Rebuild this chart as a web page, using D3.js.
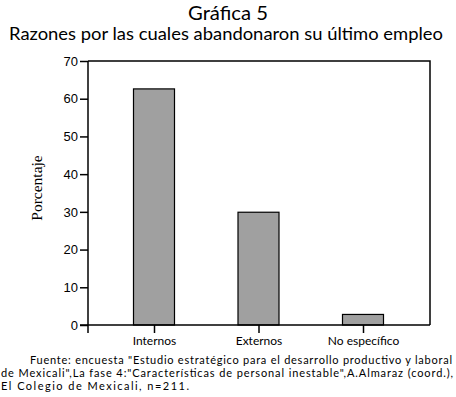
<!DOCTYPE html>
<html>
<head>
<meta charset="utf-8">
<script src="https://cdn.jsdelivr.net/npm/d3@7"></script>
<style>
  body { margin: 0; background: #fff; }
  svg { display: block; }
</style>
</head>
<body>
<div id="chart"></div>
<script>
// data
const categories = ['Internos', 'Externos', 'No específico'];
const values = [62.6, 29.9, 2.8];
const yTicks = [0, 10, 20, 30, 40, 50, 60, 70];
const titleText = 'Gráfica 5';
const subtitleText = 'Razones por las cuales abandonaron su último empleo';
const sourceLines = [
  'Fuente: encuesta "Estudio estratégico para el desarrollo productivo y laboral',
  'de Mexicali",La fase 4:"Características de personal inestable",A.Almaraz  (coord.),',
  'El Colegio de Mexicali, n=211.'
];

const width = 456, height = 397;
const titleFont = 'Lato, "Noto Sans", sans-serif';

const svg = d3.select('#chart').append('svg')
  .attr('width', width)
  .attr('height', height);

// plot frame
const plotLeft = 88, plotRight = 430, plotTop = 61, plotBottom = 325;

const y = d3.scaleLinear().domain([0, 70]).range([plotBottom, plotTop]);
const x = d3.scalePoint().domain(categories).range([154, 363]);
const barWidth = 41;

// titles
svg.append('text')
  .attr('x', 228).attr('y', 20)
  .attr('text-anchor', 'middle')
  .attr('textLength', 80).attr('lengthAdjust', 'spacingAndGlyphs')
  .style('font-family', titleFont)
  .style('font-size', '19px')
  .text(titleText);

svg.append('text')
  .attr('x', 226).attr('y', 40)
  .attr('text-anchor', 'middle')
  .attr('textLength', 434).attr('lengthAdjust', 'spacingAndGlyphs')
  .style('font-family', titleFont)
  .style('font-size', '17.5px')
  .text(subtitleText);

// top and right border
svg.append('path')
  .attr('d', `M${plotLeft},${plotTop}H${plotRight}V${plotBottom}`)
  .attr('fill', 'none')
  .attr('stroke', '#000')
  .attr('stroke-width', 1.5);

// bars
svg.append('g')
  .selectAll('rect')
  .data(values)
  .join('rect')
  .attr('x', (d, i) => x(categories[i]) - barWidth / 2)
  .attr('y', d => y(d))
  .attr('width', barWidth)
  .attr('height', d => y(0) - y(d))
  .attr('fill', '#a0a0a0')
  .attr('stroke', '#000')
  .attr('stroke-width', 1.2);

// y axis
const yAxis = svg.append('g')
  .attr('transform', `translate(${plotLeft},0)`)
  .call(d3.axisLeft(y).tickValues(yTicks).tickSize(8).tickPadding(2).tickSizeOuter(0));
yAxis.select('.domain').remove();
yAxis.append('line')
  .attr('y1', plotTop).attr('y2', plotBottom + 8)
  .attr('stroke', '#000').attr('stroke-width', 1.5);
yAxis.selectAll('.tick line').attr('stroke-width', 1.5);
yAxis.selectAll('.tick text')
  .style('font-family', '"Liberation Sans", Arial, sans-serif')
  .style('font-size', '13px')
  .attr('fill', '#000');

// x axis
const xAxis = svg.append('g')
  .attr('transform', `translate(0,${plotBottom})`)
  .call(d3.axisBottom(x).tickSize(8).tickPadding(3).tickSizeOuter(0));
xAxis.select('.domain').remove();
xAxis.append('line')
  .attr('x1', plotLeft - 8).attr('x2', plotRight)
  .attr('stroke', '#000').attr('stroke-width', 1.5);
xAxis.selectAll('.tick line').attr('stroke-width', 1.5);
xAxis.selectAll('.tick text')
  .style('font-family', titleFont)
  .style('font-size', '12px')
  .attr('fill', '#000');

// y label
svg.append('text')
  .attr('transform', 'translate(42,188) rotate(-90)')
  .attr('text-anchor', 'middle')
  .style('font-family', '"Liberation Serif", "Times New Roman", serif')
  .style('font-size', '15.5px')
  .text('Porcentaje');

// source note
const note = svg.append('g')
  .style('font-family', titleFont)
  .style('font-size', '11px');
note.append('text').attr('x', 30).attr('y', 364)
  .attr('textLength', 422).attr('lengthAdjust', 'spacing')
  .text(sourceLines[0]);
note.append('text').attr('x', 1).attr('y', 377)
  .attr('textLength', 452).attr('lengthAdjust', 'spacing')
  .text(sourceLines[1]);
note.append('text').attr('x', 1).attr('y', 390)
  .attr('textLength', 188).attr('lengthAdjust', 'spacing')
  .text(sourceLines[2]);
</script>
</body>
</html>
